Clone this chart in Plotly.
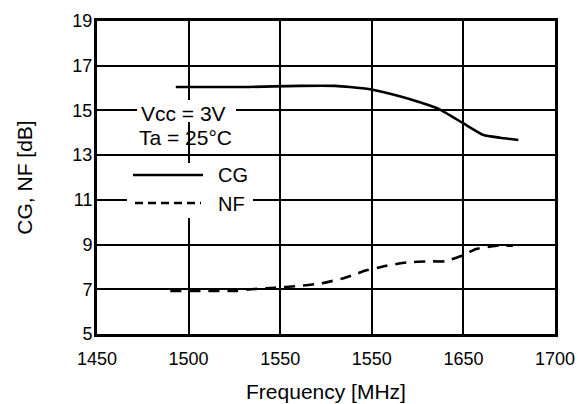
import plotly.graph_objects as go

# CG curve (conversion gain)
cg_freq = [1493, 1533, 1561, 1580, 1588, 1599, 1610, 1621, 1637, 1650, 1661, 1670, 1680]
cg_val = [16.05, 16.05, 16.1, 16.1, 16.05, 15.95, 15.75, 15.5, 15.05, 14.42, 13.9, 13.78, 13.68]

# NF curve (noise figure)
nf_freq = [1490, 1526, 1534, 1547, 1559, 1572, 1584, 1592, 1595, 1608, 1619, 1631, 1640, 1649, 1657, 1668, 1677]
nf_val = [6.93, 6.93, 7.0, 7.07, 7.14, 7.26, 7.48, 7.7, 7.8, 8.05, 8.2, 8.25, 8.25, 8.5, 8.8, 8.95, 8.95]

x_tickvals = [1450, 1500, 1550, 1600, 1650, 1700]
x_ticktext = ["1450", "1500", "1550", "1550", "1650", "1700"]
y_tickvals = [5, 7, 9, 11, 13, 15, 17, 19]

FONT = "Liberation Sans, Arial, Helvetica, sans-serif"

fig = go.Figure()
fig.add_trace(go.Scatter(x=cg_freq, y=cg_val, mode="lines", name="CG",
                         line=dict(color="black", width=2.6, shape="spline", smoothing=0.5),
                         showlegend=False))
fig.add_trace(go.Scatter(x=nf_freq, y=nf_val, mode="lines", name="NF",
                         line=dict(color="black", width=2.6, dash="11px,8px", shape="spline", smoothing=0.5),
                         showlegend=False))

# helpers: page pixel -> paper fraction of the plot area (plot area spans x 97..555, y 21..334 on the page)
def px(x):
    return (x - 97) / 458.0

def py(y):
    return (334 - y) / 313.0

shapes = [
    dict(type="rect", xref="paper", yref="paper", x0=px(137), x1=px(236), y0=py(122), y1=py(100),
         fillcolor="white", line=dict(width=0), layer="above"),
    dict(type="rect", xref="paper", yref="paper", x0=px(127), x1=px(253), y0=py(218), y1=py(163),
         fillcolor="white", line=dict(width=0), layer="above"),
    dict(type="line", xref="paper", yref="paper", x0=px(133), x1=px(203), y0=py(175), y1=py(175),
         line=dict(color="black", width=2.6), layer="above"),
    dict(type="line", xref="paper", yref="paper", x0=px(135), x1=px(201), y0=py(203), y1=py(203),
         line=dict(color="black", width=2.6, dash="8px,5px"), layer="above"),
]

annotations = [
    dict(text="Vcc = 3V", xref="paper", yref="paper", x=px(139), y=py(113), xanchor="left", yanchor="middle",
         showarrow=False, font=dict(family=FONT, size=21, color="black")),
    dict(text="Ta = 25°C", xref="paper", yref="paper", x=px(137), y=py(137), xanchor="left", yanchor="middle",
         showarrow=False, font=dict(family=FONT, size=21, color="black")),
    dict(text="CG", xref="paper", yref="paper", x=px(216), y=py(175), xanchor="left", yanchor="middle",
         showarrow=False, font=dict(family=FONT, size=20, color="black")),
    dict(text="NF", xref="paper", yref="paper", x=px(216), y=py(204), xanchor="left", yanchor="middle",
         showarrow=False, font=dict(family=FONT, size=20, color="black")),
]

# page body has an 8px default margin, so the figure is sized/offset to compensate
fig.update_layout(
    width=577, height=396,
    margin=dict(l=89, r=30, t=13, b=70),
    paper_bgcolor="white", plot_bgcolor="white",
    font=dict(family=FONT, color="black"),
    shapes=shapes, annotations=annotations,
    showlegend=False,
)
fig.update_xaxes(
    range=[1450, 1700], tickvals=x_tickvals, ticktext=x_ticktext,
    showgrid=True, gridcolor="black", gridwidth=2,
    showline=True, linecolor="black", linewidth=3, mirror=True,
    ticks="", ticklabelstandoff=6, zeroline=False, automargin=False,
    tickfont=dict(family=FONT, size=18, color="black"),
    title=dict(text="Frequency [MHz]", font=dict(family=FONT, size=21, color="black"), standoff=17),
)
fig.update_yaxes(
    range=[5, 19], tickvals=y_tickvals,
    showgrid=True, gridcolor="black", gridwidth=2,
    showline=True, linecolor="black", linewidth=3, mirror=True,
    ticks="", ticklabelstandoff=-2, zeroline=False, automargin=False,
    tickfont=dict(family=FONT, size=18, color="black"),
    title=dict(text="CG, NF [dB]", font=dict(family=FONT, size=21, color="black"), standoff=35),
)

fig.write_html("out.html")
